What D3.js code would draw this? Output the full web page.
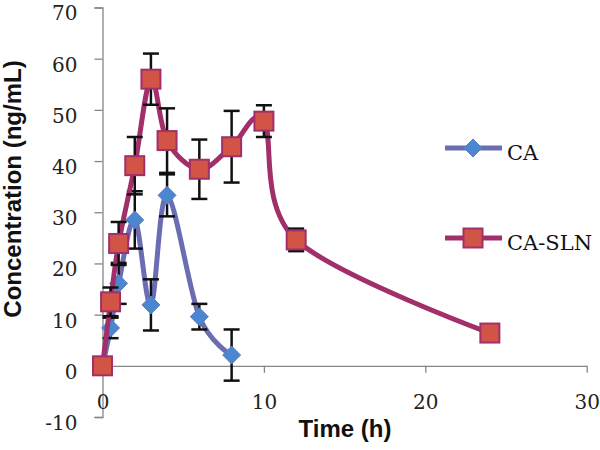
<!DOCTYPE html>
<html>
<head>
<meta charset="utf-8">
<script src="https://cdn.jsdelivr.net/npm/d3@7"></script>
<style>
  html, body { margin: 0; padding: 0; background: #fff; }
  svg { display: block; }
</style>
</head>
<body>
<svg id="chart" width="600" height="450"></svg>
<script>
// ---- data ----
const caTime   = [0, 0.5, 1, 2, 3, 4, 6, 8];
const caConc   = [0, 7.4, 16.1, 28.5, 11.9, 33.3, 9.6, 2.1];
const caErr    = [0, 2.0, 4.0, 5.6, 5.0, 4.1, 2.5, 5.0];

const slnTime  = [0, 0.5, 1, 2, 3, 4, 6, 8, 10, 12, 24];
const slnConc  = [0, 12.5, 23.9, 39.1, 56.0, 44.0, 38.4, 42.8, 47.8, 24.6, 6.4];
const slnErr   = [0, 2.8, 4.2, 5.6, 5.0, 6.3, 5.8, 7.0, 3.1, 2.2, 0.8];

const xTicks = [0, 10, 20, 30];
const yTicks = [-10, 0, 10, 20, 30, 40, 50, 60, 70];
const seriesNames = ["CA", "CA-SLN"];
const xTitle = "Time (h)";
const yTitle = "Concentration (ng/mL)";

// ---- layout ----
const svg = d3.select("#chart");
const x = d3.scaleLinear().domain([0, 30]).range([102.5, 586.7]);
const y = d3.scaleLinear().domain([-10, 70]).range([417, 7.5]);
const axisColor = "#868686";
const tickFont = "'DejaVu Serif', 'Liberation Serif', serif";
const fmt = d => String(d); // plain hyphen-minus like the original

// y axis
const yAxis = svg.append("g").attr("transform", `translate(${x(0)},0)`)
  .call(d3.axisLeft(y).tickValues(yTicks).tickSize(8).tickPadding(17).tickFormat(fmt));
yAxis.select(".domain").attr("stroke", axisColor).attr("stroke-width", 1.3);
yAxis.selectAll(".tick line").attr("stroke", axisColor).attr("stroke-width", 1.3);
yAxis.selectAll(".tick text")
  .attr("font-family", tickFont).attr("font-size", 20).attr("fill", "#222").attr("dy", "0.62em");

// x axis at y = 0
const xAxis = svg.append("g").attr("transform", `translate(0,${y(0)})`)
  .call(d3.axisBottom(x).tickValues(xTicks).tickSize(7).tickPadding(22).tickSizeOuter(0).tickFormat(fmt));
xAxis.select(".domain").attr("stroke", axisColor).attr("stroke-width", 1.3);
xAxis.selectAll(".tick line").attr("stroke", axisColor).attr("stroke-width", 1.3);
xAxis.selectAll(".tick text")
  .attr("font-family", tickFont).attr("font-size", 20).attr("fill", "#222");

// axis titles
svg.append("text").attr("x", 345).attr("y", 437)
  .attr("text-anchor", "middle").attr("font-family", "'Liberation Sans', Arial, sans-serif")
  .attr("font-weight", "bold").attr("font-size", 24).attr("fill", "#111").text(xTitle);
svg.append("text").attr("transform", "translate(21,189) rotate(-90)")
  .attr("text-anchor", "middle").attr("font-family", "'Liberation Sans', Arial, sans-serif")
  .attr("font-weight", "bold").attr("font-size", 24).attr("fill", "#111").text(yTitle);

// ---- series ----
const caData = caTime.map((t, i) => ({t, v: caConc[i], e: caErr[i]}));
const slnData = slnTime.map((t, i) => ({t, v: slnConc[i], e: slnErr[i]}));

const line = d3.line().x(d => x(d.t)).y(d => y(d.v)).curve(d3.curveCardinal.tension(0));

const styles = [
  {data: caData, line: "#6b6db4", fill: "#4a87cf", stroke: "#5c7cc4", marker: "diamond"},
  {data: slnData, line: "#a1306a", fill: "#d25446", stroke: "#a1306a", marker: "square"}
];

function drawMarker(g, type, cx, cy, s) {
  if (type === "diamond") {
    const r = 9;
    g.append("path").attr("d", `M${cx},${cy - r}L${cx + r},${cy}L${cx},${cy + r}L${cx - r},${cy}Z`)
      .attr("fill", s.fill).attr("stroke", s.stroke).attr("stroke-width", 1);
  } else {
    const h = 9.5;
    g.append("rect").attr("x", cx - h).attr("y", cy - h).attr("width", 2 * h).attr("height", 2 * h)
      .attr("fill", s.fill).attr("stroke", s.stroke).attr("stroke-width", 2);
  }
}

styles.forEach(s => {
  const g = svg.append("g");
  g.append("path").datum(s.data).attr("d", line)
    .attr("fill", "none").attr("stroke", s.line).attr("stroke-width", 5)
    .attr("stroke-linejoin", "round").attr("stroke-linecap", "round");
  const eb = g.append("g").attr("stroke", "#111").attr("stroke-width", 2.5);
  s.data.filter(d => d.e > 0).forEach(d => {
    const cx = x(d.t), y1 = y(d.v + d.e), y2 = y(d.v - d.e);
    eb.append("line").attr("x1", cx).attr("x2", cx).attr("y1", y1).attr("y2", y2);
    eb.append("line").attr("x1", cx - 8).attr("x2", cx + 8).attr("y1", y1).attr("y2", y1);
    eb.append("line").attr("x1", cx - 8).attr("x2", cx + 8).attr("y1", y2).attr("y2", y2);
  });
  s.data.forEach(d => drawMarker(g, s.marker, x(d.t), y(d.v), s));
});

// ---- legend ----
const legendY = [148, 238];
styles.forEach((s, i) => {
  const g = svg.append("g");
  g.append("line").attr("x1", 445).attr("x2", 502).attr("y1", legendY[i]).attr("y2", legendY[i])
    .attr("stroke", s.line).attr("stroke-width", 5);
  drawMarker(g, s.marker, 473, legendY[i], s);
  g.append("text").attr("x", 507).attr("y", legendY[i] + 12)
    .attr("font-family", tickFont).attr("font-size", 21).attr("fill", "#111").text(seriesNames[i]);
});
</script>
</body>
</html>
